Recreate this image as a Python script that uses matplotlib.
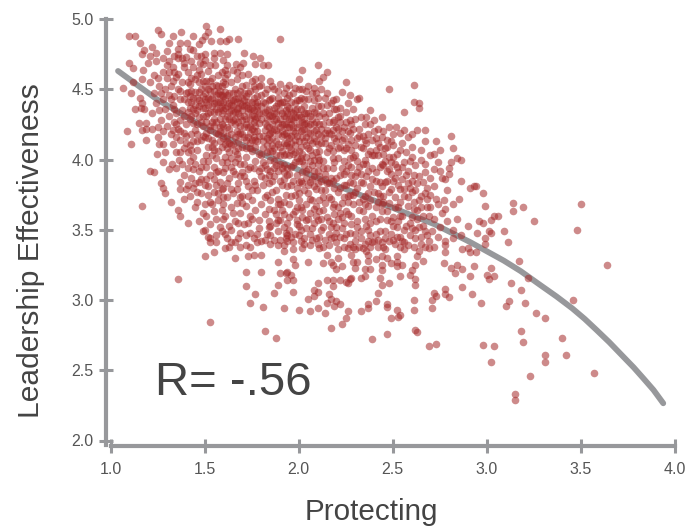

import matplotlib
matplotlib.use("Agg")
import matplotlib.pyplot as plt

plt.rcParams['font.family'] = ['Liberation Sans', 'DejaVu Sans']

# fit curve
curve_x = [1.04, 1.245, 1.53, 1.805, 2.08, 2.435, 2.72, 2.914, 3.09, 3.18, 3.283, 3.37, 3.454, 3.52, 3.583, 3.65, 3.725, 3.78, 3.831, 3.885, 3.937]
curve_y = [4.63, 4.43, 4.205, 4.04, 3.88, 3.69, 3.54, 3.41, 3.28, 3.205, 3.107, 3.025, 2.94, 2.865, 2.786, 2.70, 2.596, 2.52, 2.443, 2.36, 2.265]

# outer points, read one by one
right_side = [(2.93,3.81),(2.98,3.76),(2.99,3.67),(3.14,3.69),(3.19,3.66),(3.14,3.63),(3.50,3.68),(3.06,3.60),
    (3.04,3.60),(3.02,3.57),(2.96,3.56),(2.98,3.55),(3.25,3.56),(2.95,3.48),(3.01,3.49),(3.02,3.48),(3.09,3.49),
    (3.48,3.50),(2.99,3.44),(2.99,3.40),(3.11,3.41),(2.94,3.34),(3.17,3.28),(3.64,3.25),(2.93,3.24),(3.02,3.23),
    (3.00,3.18),(3.01,3.15),(3.04,3.17),(2.91,3.17),(3.22,3.16),(3.13,3.12),(3.18,3.07),(2.92,3.04),(2.97,2.98),
    (3.12,2.99),(3.10,2.96),(3.20,2.98),(3.46,3.00),(3.26,2.91),(3.31,2.87),(3.18,2.78),(3.19,2.70),(3.40,2.73),
    (2.98,2.68),(3.04,2.67),(3.31,2.61),(3.42,2.61),(3.31,2.56),(3.02,2.56),(3.23,2.46),(3.57,2.48),(3.15,2.33),(3.15,2.29)]

lower_middle = [(2.69,2.67),(2.73,2.69),(2.63,2.77),(2.62,2.79),(2.47,2.76),(2.39,2.72),(2.17,2.80),(2.23,2.83),(2.25,2.87),
    (2.49,2.87),(2.53,2.88),(2.54,2.89),(2.52,2.93),(2.61,2.93),(2.71,2.94),(2.47,2.97),(2.47,2.95),(2.26,2.92),(2.33,2.92),
    (2.37,2.97),(2.37,2.94),(2.41,2.99),(2.61,3.00),(2.42,3.05),(2.80,3.02),(2.78,3.08),(2.78,3.04),(2.72,3.05),(2.73,3.03),
    (2.71,3.00),(2.87,3.09),(2.14,2.91),(2.10,2.94),(2.06,2.92),(2.00,2.93),(2.22,2.97),
    (2.19,2.96),(2.20,2.99),(2.17,3.01),(2.15,2.98),(2.16,3.04),(2.05,3.01),(2.08,3.07),(2.10,3.06),(2.08,3.03),(1.97,3.06),
    (2.10,3.12),(2.15,3.14),(2.18,3.10),(2.18,3.14),(2.22,3.14),(2.25,3.13),(2.27,3.15),(2.28,3.16),(2.26,3.12),(2.48,3.12),
    (2.44,3.11),(2.43,3.16),(2.33,3.16),(2.35,3.17),(2.54,3.17),(2.62,3.15),(2.62,3.11),(2.59,3.18),(2.60,3.21),(2.05,3.27),
    (1.97,3.29),(1.98,3.25),(1.97,3.36),(1.96,3.18),(1.97,3.14),(2.13,3.26),(2.15,3.32),(2.17,3.27),(2.18,3.25),(2.21,3.30),
    (2.20,3.22),(2.23,3.24),(2.28,3.32),(2.29,3.27),(2.31,3.27),(2.30,3.23),(2.36,3.35),(2.37,3.28),(2.37,3.32),(2.35,3.22),
    (2.38,3.22),(2.41,3.29),(2.44,3.31),(2.47,3.30),(2.44,3.25),(2.44,3.21),(2.52,3.31),(2.52,3.27),(2.52,3.24),(2.49,3.26),
    (2.55,3.25),(2.56,3.36),(2.62,3.25),(2.63,3.31),(2.66,3.28),(2.64,3.35),(2.67,3.38),(2.72,3.38),(2.69,3.37),(2.77,3.26),
    (2.81,3.23),(2.84,3.25),(2.87,3.22),(2.83,3.19),(2.78,3.34),(2.78,3.39),(2.78,3.42),(2.87,3.36),
    (2.91,3.34),(2.90,3.37)]

lower_left = [(1.17,3.67),(1.36,3.15),(1.53,2.84),(1.82,2.78),(1.88,2.73),(1.72,3.10),(1.77,3.04),(1.74,2.98),(1.81,2.95),(1.72,3.20),
    (1.80,3.20),(1.90,3.19),(1.89,3.11),(1.87,3.05),(1.92,2.94),(1.94,3.20),(1.93,3.19),
    (1.94,3.14),(1.89,3.27),(1.50,3.31),(1.55,3.34),(1.66,3.30),(1.73,3.31),(1.76,3.32),(1.80,3.32),
    (1.61,3.37),(1.64,3.41),(1.66,3.41),(1.63,3.38),(1.69,3.38),(1.72,3.39),(1.74,3.38),(1.78,3.41),(1.80,3.42),(1.82,3.43),
    (1.85,3.40),(1.89,3.39),(1.92,3.35),(1.90,3.43),(1.94,3.42),(1.92,3.39),(1.49,3.49),(1.50,3.50),(1.52,3.45),
    (1.53,3.44),(1.53,3.41),(1.56,3.41),(1.56,3.46),(1.61,3.47),(1.69,3.48),(1.74,3.48),(1.79,3.51),(1.84,3.52),(1.85,3.46),
    (1.93,3.48),(1.41,3.55),(1.37,3.60),(1.36,3.64),(1.32,3.70),(1.39,3.72),(1.28,3.80),(1.29,3.76),(1.27,3.83),(1.37,3.84),
    (1.37,3.79),(1.39,3.89),(1.40,3.79)]

upper_left = [(1.51,4.95),(1.58,4.93),(1.25,4.92),(1.27,4.89),(1.375,4.91),(1.33,4.88),(1.52,4.91),(1.10,4.88),(1.13,4.88),(1.155,4.83),
    (1.44,4.88),(1.485,4.85),(1.50,4.88),(1.535,4.84),(1.58,4.84),(1.63,4.86),(1.615,4.84),(1.68,4.86),(1.90,4.86),(1.31,4.83),
    (1.37,4.83),(1.405,4.83),(1.22,4.80),(1.18,4.78),(1.17,4.75),(1.21,4.74),(1.24,4.76),(1.30,4.77),(1.36,4.79),(1.36,4.75),
    (1.42,4.79),(1.47,4.82),(1.44,4.78),(1.55,4.76),(1.58,4.76),(1.62,4.75),(1.71,4.76),(1.755,4.74),(1.795,4.72),(1.48,4.74),
    (1.50,4.75),(1.36,4.72),(1.10,4.69),(1.12,4.65),(1.175,4.64),(1.20,4.69),(1.24,4.70),(1.31,4.70),(1.28,4.62),(1.33,4.66),
    (1.39,4.69),(1.43,4.70),(1.475,4.69),(1.53,4.67),(1.555,4.67),(1.62,4.67),(1.666,4.68),(1.705,4.69),(1.77,4.68),(1.81,4.67),
    (1.835,4.67),(1.73,4.61),(1.80,4.58),(1.77,4.57),(1.065,4.51),(1.11,4.47),(1.12,4.55),(1.166,4.57),(1.157,4.44),(1.17,4.40),
    (1.13,4.36),(1.16,4.37),(1.18,4.36),(1.22,4.33),(1.26,4.35),(1.15,4.26),(1.19,4.26),(1.166,4.21),(1.19,4.22),(1.22,4.22),
    (1.25,4.23),(1.086,4.20),(1.11,4.11),(1.19,4.14),(1.25,4.16),(1.26,4.11),(1.28,4.11),(1.245,4.04),(1.21,3.92),(1.23,3.91),
    (1.31,3.93),(1.35,3.94),(1.325,3.97),(1.365,4.00)]

upper_right = [(2.02,4.64),(2.10,4.67),(2.15,4.62),(2.13,4.59),(2.11,4.56),(2.08,4.51),(2.25,4.55),(2.48,4.50),(2.61,4.53),(2.61,4.41),
    (2.64,4.40),(2.64,4.37),(2.56,4.34),(2.27,4.46),(2.32,4.44),(2.31,4.43),(2.38,4.35),(2.36,4.30),(2.29,4.36),(2.22,4.27),
    (2.38,4.25),(2.34,4.17),(2.48,4.23),(2.515,4.23),(2.56,4.21),(2.63,4.21),(2.67,4.21),(2.60,4.18),(2.81,4.17),(2.67,4.13),
    (2.73,4.13),(2.58,4.16),(2.54,4.19),(2.50,4.18),(2.82,4.08),(2.75,4.07),(2.60,4.09),(2.65,4.07),(2.70,4.03),(2.72,4.04),
    (2.86,4.00),(2.81,3.98),(2.74,3.98),(2.84,4.01),(2.86,3.85),(2.80,3.90),(2.80,3.94),(2.67,3.97),(2.72,3.93),(2.76,3.87),
    (2.78,3.86),(2.68,3.80),(2.72,3.81),(2.79,3.78),(2.91,3.80),(2.94,3.81),(2.85,3.72),(2.82,3.68),(2.77,3.71),
    (2.74,3.68),(2.90,3.53)]

# dense cloud, estimated column by column
x_13_14 = [(1.21,4.55),(1.23,4.47),(1.26,4.52),(1.24,4.40),(1.28,4.43),(1.27,4.28),(1.29,4.36),(1.28,4.20),(1.23,4.60),(1.29,4.50),
    (1.28,4.72),(1.29,4.05),(1.28,3.98),(1.30,4.58),(1.31,4.46),(1.32,4.52),(1.33,4.39),(1.31,4.31),(1.34,4.27),(1.32,4.18),
    (1.33,4.11),(1.35,4.05),(1.31,4.62),(1.34,4.74),(1.36,4.61),(1.36,4.50),(1.37,4.43),(1.38,4.35),(1.36,4.22),(1.37,4.14),
    (1.39,4.08),(1.38,3.97),(1.39,4.66),(1.38,4.55),(1.35,4.33),(1.34,4.45),(1.37,4.28),(1.39,4.19),(1.33,4.56),(1.35,4.16)]
x_14_15 = [(1.40,4.73),(1.41,4.62),(1.42,4.54),(1.40,4.47),(1.43,4.41),(1.41,4.34),(1.44,4.26),(1.40,4.17),(1.42,4.10),(1.44,4.02),
    (1.41,3.94),(1.43,3.87),(1.42,3.74),(1.45,3.66),(1.46,4.74),(1.47,4.64),(1.45,4.57),(1.48,4.50),(1.46,4.44),(1.49,4.37),
    (1.47,4.30),(1.45,4.21),(1.48,4.14),(1.46,4.07),(1.49,3.99),(1.47,3.92),(1.45,3.83),(1.48,3.76),(1.46,3.70),(1.49,3.62),
    (1.47,3.56),(1.43,4.49),(1.44,4.66),(1.42,4.29),(1.49,4.56),(1.48,4.40),(1.44,4.13),(1.41,4.05),(1.46,4.35),(1.47,4.48),
    (1.49,4.24),(1.45,3.97),(1.44,3.80),(1.48,3.86),(1.49,4.68),(1.42,4.45),(1.40,4.25),(1.46,4.60),(1.45,4.39),(1.43,4.18)]
x_15_16 = [(1.50,4.71),(1.52,4.63),(1.51,4.56),(1.53,4.49),(1.50,4.43),(1.54,4.38),(1.51,4.31),(1.53,4.24),(1.50,4.16),(1.52,4.09),
    (1.54,4.03),(1.51,3.95),(1.53,3.89),(1.50,3.82),(1.52,3.75),(1.54,3.68),(1.51,3.60),(1.53,3.54),(1.55,4.72),(1.57,4.60),
    (1.56,4.53),(1.58,4.46),(1.55,4.40),(1.59,4.33),(1.56,4.27),(1.58,4.20),(1.55,4.12),(1.57,4.06),(1.59,3.98),(1.56,3.91),
    (1.58,3.84),(1.55,3.77),(1.57,3.71),(1.59,3.64),(1.56,3.58),(1.58,3.52),(1.52,4.44),(1.54,4.52),(1.57,4.41),(1.55,4.34),
    (1.53,4.34),(1.56,4.46),(1.59,4.52),(1.51,4.19),(1.54,4.14),(1.58,4.13),(1.52,3.99),(1.56,4.01),(1.55,3.86),(1.59,3.79),
    (1.53,3.70),(1.57,3.92),(1.59,4.62),(1.52,4.50),(1.50,4.37),(1.54,4.27),(1.58,4.37),(1.57,4.18),(1.59,4.25),(1.51,3.86)]
x_16_17 = [(1.60,4.71),(1.62,4.61),(1.61,4.54),(1.63,4.47),(1.60,4.41),(1.64,4.35),(1.61,4.29),(1.63,4.22),(1.60,4.15),(1.62,4.08),
    (1.64,4.01),(1.61,3.94),(1.63,3.87),(1.60,3.80),(1.62,3.73),(1.64,3.66),(1.61,3.60),(1.63,3.53),(1.65,4.64),(1.67,4.57),
    (1.66,4.50),(1.68,4.44),(1.65,4.38),(1.69,4.31),(1.66,4.25),(1.68,4.18),(1.65,4.11),(1.67,4.04),(1.69,3.97),(1.66,3.90),
    (1.68,3.83),(1.65,3.76),(1.67,3.69),(1.69,3.62),(1.66,3.56),(1.61,4.48),(1.64,4.42),(1.67,4.36),(1.62,4.31),(1.65,4.28),
    (1.69,4.49),(1.60,4.24),(1.63,4.12),(1.66,4.16),(1.62,3.98),(1.68,4.08),(1.65,3.92),(1.69,3.73),(1.60,3.68),(1.64,3.79),
    (1.67,4.62),(1.69,4.66),(1.61,4.64),(1.68,4.27),(1.63,4.40),(1.66,4.43),(1.62,4.17),(1.69,4.40),(1.64,4.55),(1.60,3.91)]
x_17_18 = [(1.70,4.60),(1.72,4.53),(1.71,4.47),(1.73,4.41),(1.70,4.35),(1.74,4.29),(1.71,4.23),(1.73,4.16),(1.70,4.09),(1.72,4.02),
    (1.74,3.95),(1.71,3.88),(1.73,3.81),(1.70,3.74),(1.72,3.67),(1.74,3.60),(1.71,3.54),(1.75,4.56),(1.77,4.50),(1.76,4.44),
    (1.78,4.38),(1.75,4.32),(1.79,4.26),(1.76,4.20),(1.78,4.13),(1.75,4.06),(1.77,3.99),(1.79,3.92),(1.76,3.85),(1.78,3.78),
    (1.75,3.71),(1.77,3.64),(1.79,3.57),(1.74,4.49),(1.71,4.38),(1.78,4.45),(1.73,4.34),(1.76,4.27),(1.70,4.18),(1.79,4.33),
    (1.72,4.25),(1.75,4.14),(1.78,4.20),(1.74,4.08),(1.71,3.97),(1.79,4.04),(1.76,3.94),(1.73,3.74),(1.77,3.82),(1.72,4.45),
    (1.79,4.52),(1.76,4.35),(1.70,4.28),(1.74,4.19),(1.77,4.09),(1.70,3.91),(1.75,3.58),(1.78,4.30)]
x_18_19 = [(1.80,4.53),(1.82,4.47),(1.81,4.41),(1.83,4.35),(1.80,4.29),(1.84,4.23),(1.81,4.17),(1.83,4.10),(1.80,4.03),(1.82,3.96),
    (1.84,3.89),(1.81,3.82),(1.83,3.75),(1.80,3.68),(1.82,3.61),(1.84,3.56),(1.85,4.56),(1.87,4.50),(1.86,4.44),(1.88,4.38),
    (1.85,4.32),(1.89,4.26),(1.86,4.20),(1.88,4.13),(1.85,4.06),(1.87,3.99),(1.89,3.92),(1.86,3.85),(1.88,3.78),(1.85,3.71),
    (1.87,3.64),(1.89,3.57),(1.84,4.42),(1.82,4.34),(1.87,4.37),(1.83,4.24),(1.86,4.31),(1.81,4.08),(1.89,4.44),(1.84,4.14),
    (1.87,4.22),(1.82,3.87),(1.88,4.03),(1.85,3.92),(1.89,3.68),(1.83,4.50),(1.86,4.10),(1.80,4.38),(1.88,4.29),(1.80,3.94)]
x_19_20 = [(1.90,4.54),(1.92,4.47),(1.91,4.41),(1.93,4.35),(1.90,4.29),(1.94,4.23),(1.91,4.17),(1.93,4.10),(1.90,4.03),(1.92,3.96),
    (1.94,3.89),(1.91,3.82),(1.93,3.75),(1.90,3.68),(1.92,3.61),(1.94,3.55),(1.95,4.53),(1.97,4.47),(1.96,4.41),(1.98,4.35),
    (1.95,4.29),(1.99,4.23),(1.96,4.17),(1.98,4.10),(1.95,4.03),(1.97,3.96),(1.99,3.89),(1.96,3.82),(1.98,3.75),(1.95,3.68),
    (1.97,3.61),(1.99,3.54),(1.94,4.44),(1.92,4.31),(1.97,4.33),(1.93,4.19),(1.96,4.25),(1.91,4.06),(1.99,4.42),(1.94,4.12),
    (1.98,4.19),(1.92,3.86),(1.97,4.04),(1.95,3.90),(1.99,3.66),(1.90,4.40),(1.98,4.51),(1.93,4.51),(1.96,4.12),(1.91,3.94),
    (1.99,4.30),(1.92,4.25),(1.95,4.37),(1.90,3.57),(1.98,3.47),(1.96,3.45),(1.92,3.52)]
x_20_21 = [(2.00,4.57),(2.02,4.50),(2.01,4.44),(2.03,4.38),(2.00,4.32),(2.04,4.26),(2.01,4.20),(2.03,4.13),(2.00,4.06),(2.02,3.99),
    (2.04,3.92),(2.01,3.85),(2.03,3.78),(2.00,3.71),(2.02,3.64),(2.04,3.57),(2.01,3.50),(2.03,3.44),(2.05,4.43),(2.07,4.37),
    (2.06,4.31),(2.08,4.25),(2.05,4.19),(2.09,4.13),(2.06,4.07),(2.08,4.00),(2.05,3.93),(2.07,3.86),(2.09,3.79),(2.06,3.72),
    (2.08,3.65),(2.05,3.58),(2.07,3.51),(2.09,3.44),(2.02,3.37),(2.06,3.39),(2.04,4.49),(2.02,4.27),(2.07,4.47),(2.03,4.33),
    (2.06,4.19),(2.01,4.09),(2.09,4.33),(2.04,4.02),(2.08,4.15),(2.00,3.84),(2.07,3.96),(2.05,3.82),(2.09,3.60),(2.00,3.53),
    (2.08,4.42),(2.01,3.66),(2.03,4.22),(2.06,3.47),(2.09,4.05)]
x_21_22 = [(2.10,4.44),(2.12,4.38),(2.11,4.31),(2.13,4.25),(2.10,4.18),(2.14,4.12),(2.11,4.06),(2.13,3.99),(2.10,3.92),(2.12,3.85),
    (2.14,3.78),(2.11,3.71),(2.13,3.64),(2.10,3.57),(2.12,3.50),(2.14,3.43),(2.11,3.37),(2.15,4.47),(2.17,4.40),(2.16,4.33),
    (2.18,4.27),(2.15,4.21),(2.19,4.15),(2.16,4.08),(2.18,4.01),(2.15,3.94),(2.17,3.87),(2.19,3.80),(2.16,3.73),(2.18,3.66),
    (2.15,3.59),(2.17,3.52),(2.19,3.45),(2.16,3.39),(2.14,4.30),(2.19,4.36),(2.12,4.17),(2.17,4.18),(2.10,4.02),(2.14,3.90),
    (2.19,3.98),(2.13,3.73),(2.18,3.55),(2.11,3.45),(2.12,4.50),(2.16,3.83),(2.10,3.83),(2.19,3.68)]
x_22_23 = [(2.20,4.43),(2.22,4.37),(2.21,4.30),(2.23,4.20),(2.20,4.13),(2.24,4.07),(2.21,4.01),(2.23,3.94),(2.20,3.87),(2.22,3.80),
    (2.24,3.73),(2.21,3.66),(2.23,3.59),(2.20,3.52),(2.22,3.45),(2.24,3.38),(2.21,3.36),(2.25,4.34),(2.27,4.28),(2.26,4.20),
    (2.28,4.14),(2.25,4.08),(2.29,4.02),(2.26,3.96),(2.28,3.89),(2.25,3.82),(2.27,3.75),(2.29,3.68),(2.26,3.61),(2.28,3.54),
    (2.25,3.47),(2.27,3.40),(2.29,3.38),(2.23,4.48),(2.26,4.40),(2.28,4.25),(2.21,4.17),(2.24,3.90),(2.29,3.83),(2.22,3.62),
    (2.26,3.70)]
x_23_24 = [(2.30,4.29),(2.32,4.22),(2.31,4.15),(2.33,4.09),(2.30,4.03),(2.34,3.97),(2.31,3.91),(2.33,3.84),(2.30,3.77),(2.32,3.70),
    (2.34,3.63),(2.31,3.56),(2.33,3.49),(2.30,3.42),(2.32,3.38),(2.35,4.25),(2.37,4.18),(2.36,4.12),(2.38,4.06),(2.35,4.00),
    (2.39,3.94),(2.36,3.88),(2.38,3.81),(2.35,3.74),(2.37,3.67),(2.39,3.60),(2.36,3.53),(2.38,3.46),(2.35,3.40),(2.37,3.42),
    (2.33,4.30),(2.39,4.14),(2.32,3.95),(2.37,3.92),(2.31,3.80),(2.34,3.72)]
x_24_25 = [(2.40,4.28),(2.42,4.22),(2.41,4.15),(2.43,4.09),(2.40,4.03),(2.44,3.97),(2.41,3.91),(2.43,3.84),(2.40,3.77),(2.42,3.70),
    (2.44,3.63),(2.41,3.56),(2.43,3.49),(2.40,3.42),(2.42,3.38),(2.45,4.20),(2.47,4.14),(2.46,4.08),(2.48,4.02),(2.45,3.96),
    (2.49,3.90),(2.46,3.84),(2.48,3.77),(2.45,3.70),(2.47,3.63),(2.49,3.56),(2.46,3.49),(2.48,3.42),(2.45,3.38),(2.44,4.30),
    (2.42,4.03),(2.47,3.92),(2.43,3.74),(2.49,3.98),(2.41,3.47)]
x_25_27 = [(2.50,4.10),(2.52,4.04),(2.51,3.97),(2.53,3.91),(2.50,3.85),(2.54,3.79),(2.51,3.73),(2.53,3.66),(2.50,3.59),(2.52,3.52),
    (2.54,3.45),(2.51,3.40),(2.55,4.12),(2.57,4.05),(2.56,3.98),(2.58,3.92),(2.55,3.86),(2.59,3.80),(2.56,3.74),(2.58,3.67),
    (2.55,3.60),(2.57,3.53),(2.59,3.46),(2.56,3.41),(2.60,4.02),(2.62,3.96),(2.61,3.89),(2.63,3.83),(2.60,3.77),(2.64,3.71),
    (2.61,3.65),(2.63,3.58),(2.60,3.51),(2.62,3.44),(2.61,3.38),(2.65,4.00),(2.67,3.91),(2.66,3.84),(2.68,3.72),(2.65,3.66),
    (2.69,3.60),(2.66,3.53),(2.68,3.46),(2.65,3.40),(2.67,3.76),(2.54,3.60),(2.58,3.83),(2.70,3.66),(2.72,3.58),(2.75,3.52)]

# second pass over the cloud, where the picture is darkest
core_left = [(1.32,4.43),(1.37,4.49),(1.41,4.41),(1.35,4.59),(1.43,4.58),(1.39,4.31),(1.46,4.25),(1.44,4.36),(1.48,4.61),(1.50,4.52),
    (1.47,4.42),(1.52,4.39),(1.49,4.31),(1.53,4.43),(1.51,4.27),(1.55,4.49),(1.54,4.58),(1.57,4.52),(1.58,4.41),(1.56,4.36),
    (1.59,4.46),(1.53,4.21),(1.49,4.17),(1.46,4.13),(1.43,4.07),(1.56,4.19),(1.58,4.29),(1.54,4.09),(1.52,4.15),(1.60,4.55),
    (1.61,4.43),(1.63,4.34),(1.65,4.47),(1.62,4.38),(1.67,4.41),(1.64,4.27),(1.60,4.35),(1.66,4.34),(1.68,4.37),(1.69,4.24),
    (1.62,4.23),(1.61,4.11),(1.64,4.18),(1.66,4.06),(1.68,4.13),(1.63,4.05),(1.70,4.44),(1.72,4.39),(1.71,4.31),(1.74,4.36),
    (1.73,4.23),(1.75,4.41),(1.76,4.31),(1.77,4.24),(1.78,4.35),(1.79,4.17),(1.72,4.14),(1.75,4.22),(1.74,4.12),(1.77,4.40),
    (1.70,4.52),(1.73,4.47),(1.76,4.52),(1.42,3.99),(1.47,3.84),(1.52,3.81),(1.57,3.76),(1.62,3.83),(1.67,3.79),(1.72,3.85),
    (1.41,3.82),(1.46,3.77),(1.50,3.68),(1.55,3.63),(1.60,3.58),(1.65,3.62),(1.70,3.69),(1.75,3.78),(1.68,3.55),(1.73,3.55),
    (1.34,4.36),(1.30,4.24),(1.35,4.25),(1.39,4.43),(1.43,4.31),(1.27,4.47),(1.25,4.58),(1.30,4.67),(1.34,4.62),(1.38,4.72),
    (1.41,4.55),(1.45,4.48),(1.49,4.45),(1.55,4.24),(1.59,4.09),(1.48,3.95),(1.55,3.95),(1.64,3.95),(1.73,3.93),(1.69,3.88),
    (1.33,4.21),(1.37,4.20),(1.40,4.12),(1.37,4.05),(1.44,3.93),(1.51,4.03),(1.61,4.02),(1.66,3.98),(1.56,3.82),(1.60,3.73)]
core_mid = [(1.80,4.46),(1.82,4.40),(1.84,4.36),(1.81,4.33),(1.85,4.43),(1.83,4.29),(1.86,4.25),(1.88,4.33),(1.87,4.28),(1.89,4.40),
    (1.84,4.18),(1.82,4.21),(1.86,4.15),(1.89,4.18),(1.81,4.13),(1.83,4.05),(1.87,4.08),(1.90,4.35),(1.92,4.41),(1.94,4.38),
    (1.91,4.25),(1.93,4.30),(1.95,4.23),(1.97,4.28),(1.96,4.34),(1.98,4.40),(1.99,4.36),(1.94,4.17),(1.92,4.12),(1.96,4.07),
    (1.98,4.14),(1.90,4.09),(1.93,4.04),(1.99,4.01),(2.00,4.42),(2.01,4.36),(2.03,4.29),(2.02,4.21),(2.05,4.33),(2.04,4.16),
    (2.06,4.25),(2.07,4.12),(2.08,4.34),(2.05,4.08),(2.09,4.21),(2.02,4.04),(2.00,4.13),(2.03,3.96),(2.06,3.99),(2.08,3.92),
    (1.85,4.00),(1.88,3.96),(1.81,3.98),(1.84,3.83),(1.87,3.88),(1.90,3.85),(1.94,3.81),(1.97,3.85),(1.99,3.80),(2.02,3.83),
    (2.05,3.76),(2.08,3.81),(1.82,3.73),(1.86,3.77),(1.89,3.72),(1.92,3.70),(1.96,3.74),(2.00,3.76),(2.04,3.68),(2.07,3.71),
    (1.84,3.65),(1.88,3.61),(1.91,3.64),(1.95,3.59),(1.98,3.63),(2.02,3.59),(2.06,3.62),(2.09,3.67),(2.10,4.38),(2.11,4.25),
    (2.13,4.33),(2.15,4.39),(2.12,4.12),(2.14,4.19),(2.16,4.27),(2.18,4.21),(2.17,4.10),(2.19,4.28),(2.11,4.00),(2.13,3.94),
    (2.15,4.05),(2.18,3.94),(2.12,3.78),(2.15,3.83),(2.17,3.72),(2.11,3.63),(2.14,3.69),(2.19,3.61),(2.16,3.56),(2.13,3.52),
    (1.89,4.49),(1.86,4.52),(1.95,4.46),(2.00,4.50),(2.05,4.52),(2.09,4.47),(2.14,4.44),(2.18,4.42),(2.03,4.43),(1.91,4.20),
    (1.97,4.20),(2.00,3.99),(1.92,3.91),(1.96,3.95),(2.04,3.87),(2.08,3.88),(2.11,3.88),(1.87,3.94),(1.83,3.93),(1.80,3.88)]
core_right = [(2.20,4.36),(2.22,4.31),(2.24,4.23),(2.21,4.22),(2.25,4.27),(2.23,4.14),(2.27,4.19),(2.26,4.11),(2.29,4.22),(2.28,4.07),
    (2.21,4.08),(2.24,3.99),(2.27,4.01),(2.30,4.10),(2.32,4.17),(2.34,4.08),(2.31,3.99),(2.35,4.14),(2.37,4.04),(2.33,3.90),
    (2.36,3.97),(2.39,4.03),(2.22,3.89),(2.25,3.92),(2.28,3.95),(2.21,3.77),(2.24,3.82),(2.27,3.84),(2.30,3.88),(2.34,3.83),
    (2.37,3.76),(2.39,3.86),(2.23,3.69),(2.26,3.74),(2.29,3.75),(2.32,3.64),(2.35,3.68),(2.38,3.71),(2.21,3.58),(2.25,3.63),
    (2.28,3.60),(2.31,3.52),(2.35,3.58),(2.38,3.55),(2.23,3.51),(2.27,3.48),(2.30,3.47),(2.33,3.44),(2.37,3.50),(2.39,3.41),
    (2.40,4.20),(2.42,4.12),(2.44,4.16),(2.41,4.07),(2.45,4.04),(2.47,4.09),(2.49,4.13),(2.46,3.99),(2.43,3.95),(2.48,3.93),
    (2.41,3.85),(2.44,3.81),(2.47,3.85),(2.49,3.79),(2.42,3.76),(2.45,3.74),(2.48,3.69),(2.41,3.66),(2.44,3.68),(2.47,3.57),
    (2.43,3.58),(2.46,3.44),(2.49,3.47),(2.44,3.41),(2.50,4.02),(2.52,3.95),(2.54,4.07),(2.51,3.87),(2.55,3.95),(2.53,3.82),
    (2.57,3.89),(2.59,3.99),(2.56,3.79),(2.58,3.73),(2.51,3.66),(2.54,3.70),(2.50,3.53),(2.53,3.56),(2.56,3.50),(2.59,3.55),
    (2.52,3.45),(2.55,3.42),(2.58,3.39),(2.60,3.85),(2.62,3.78),(2.64,3.88),(2.61,3.70),(2.65,3.74),(2.63,3.64),(2.66,3.60),
    (2.68,3.66),(2.60,3.59),(2.64,3.52),(2.67,3.49),(2.62,3.50),(2.65,3.45),(2.69,3.42),(2.71,3.49),(2.74,3.45),(2.70,3.75),
    (2.73,3.72),(2.76,3.62),(2.79,3.56),(2.82,3.50),(2.84,3.58),(2.78,3.65),(2.82,3.44),(2.86,3.46),(2.70,3.87),(2.75,3.92)]
low_band = [(1.85,3.53),(1.89,3.49),(1.93,3.44),(1.97,3.41),(2.00,3.46),(2.03,3.40),(2.07,3.43),(2.10,3.40),(2.13,3.38),(2.17,3.44),
    (2.20,3.41),(2.24,3.44),(2.26,3.37),(2.30,3.36),(2.34,3.37),(2.38,3.38),(2.42,3.43),(2.46,3.36),(2.50,3.43),(2.54,3.38),
    (2.04,3.51),(2.08,3.55),(2.12,3.58),(2.16,3.47),(2.20,3.48),(2.24,3.55),(1.95,3.50),(1.99,3.57),(2.01,3.42),(1.88,3.55),
    (1.78,3.47),(1.72,3.46),(1.68,3.44),(1.64,3.50),(1.59,3.49),(1.62,3.44),(1.76,3.44),(1.83,3.47),(1.87,3.43),(1.94,3.46)]

# third pass, the two darkest patches of the cloud
dark_left = [(1.42,4.37),(1.45,4.33),(1.47,4.38),(1.50,4.47),(1.52,4.33),(1.54,4.44),(1.55,4.29),(1.57,4.34),(1.58,4.49),(1.60,4.45),
    (1.61,4.37),(1.63,4.29),(1.65,4.42),(1.66,4.29),(1.67,4.47),(1.68,4.33),(1.69,4.19),(1.71,4.42),(1.72,4.29),(1.74,4.24),
    (1.75,4.37),(1.77,4.29),(1.78,4.41),(1.48,4.27),(1.51,4.41),(1.56,4.41),(1.59,4.38),(1.62,4.46),(1.64,4.39),(1.70,4.39),
    (1.41,4.48),(1.44,4.44),(1.47,4.55),(1.53,4.56),(1.57,4.47),(1.61,4.58),(1.65,4.33),(1.73,4.37),(1.46,4.18),(1.58,4.23),
    (1.62,4.13),(1.67,4.20),(1.71,4.16),(1.76,4.16),(1.60,4.19),(1.64,4.10),(1.68,4.01),(1.72,4.08),(1.77,4.14),(1.55,4.07)]
dark_mid = [(1.82,4.26),(1.84,4.31),(1.85,4.19),(1.87,4.33),(1.88,4.21),(1.90,4.23),(1.91,4.33),(1.92,4.18),(1.93,4.25),(1.94,4.33),
    (1.95,4.15),(1.96,4.29),(1.97,4.23),(1.98,4.30),(1.99,4.17),(2.00,4.25),(2.01,4.30),(2.02,4.16),(2.03,4.25),(2.04,4.33),
    (2.05,4.24),(2.06,4.14),(2.07,4.29),(2.08,4.20),(2.09,4.27),(1.83,4.15),(1.86,4.06),(1.89,4.11),(1.92,4.03),(1.95,4.09),
    (1.98,4.05),(2.01,4.01),(2.04,4.10),(2.07,4.03),(2.10,4.11),(2.12,4.22),(2.14,4.15),(2.16,4.19),(2.18,4.06),(2.20,4.23),
    (2.22,4.09),(2.24,4.15),(1.90,3.97),(1.94,3.94),(1.98,3.98),(2.02,3.91),(2.06,3.84),(2.10,3.97),(2.14,3.86),(2.18,3.85)]

clouds = [right_side, lower_middle, lower_left, upper_left, upper_right, x_13_14, x_14_15, x_15_16, x_16_17,
          x_17_18, x_18_19, x_19_20, x_20_21, x_21_22, x_22_23, x_23_24, x_24_25, x_25_27,
          core_left, core_mid, core_right, low_band, dark_left, dark_mid]
protecting = [p[0] for c in clouds for p in c]
effectiveness = [p[1] for c in clouds for p in c]

x_ticks = [1.0, 1.5, 2.0, 2.5, 3.0, 3.5, 4.0]
y_ticks = [2.0, 2.5, 3.0, 3.5, 4.0, 4.5, 5.0]

gray = '#97989b'
W, H = 692, 527

fig = plt.figure(figsize=(W / 100, H / 100), dpi=100)
ax = fig.add_axes([110.5 / W, 1 - 440.5 / H, (675.1 - 110.5) / W, (440.5 - 19) / H])

ax.plot(curve_x, curve_y, color=gray, lw=4.2, solid_capstyle='round', solid_joinstyle='round', clip_on=False, zorder=2)
ax.scatter(protecting, effectiveness, s=30, color='#a52a2a', alpha=0.55, linewidths=0, clip_on=False, zorder=3)

ax.set_xlim(1.0, 4.0)
ax.set_ylim(2.0, 5.0)
ax.set_xticks(x_ticks)
ax.set_yticks(y_ticks)
ax.tick_params(axis='both', direction='inout', length=10, width=2.2, color=gray, labelsize=11.5, labelcolor='#555555')
ax.tick_params(axis='x', pad=6)
ax.tick_params(axis='y', pad=4)

ax.spines['top'].set_visible(False)
ax.spines['right'].set_visible(False)
for side in ['left', 'bottom']:
    ax.spines[side].set_color(gray)
    ax.spines[side].set_linewidth(3)
ax.spines['left'].set_position(('outward', 3.2))
ax.spines['bottom'].set_position(('outward', 4.3))
ax.spines['left'].set_bounds(1.965, 5.0)

ax.text(1.237, 2.324, "R= -.56", fontsize=34, color='#444444', ha='left', va='baseline')
fig.text(371 / W, 1 - 520 / H, "Protecting", fontsize=21.3, color='#444444', ha='center', va='baseline')
fig.text(31 / W, 1 - 251 / H, "Leadership Effectiveness", fontsize=21.6, color='#444444', rotation=90, ha='center', va='center')

fig.savefig('out.png', dpi=100)
